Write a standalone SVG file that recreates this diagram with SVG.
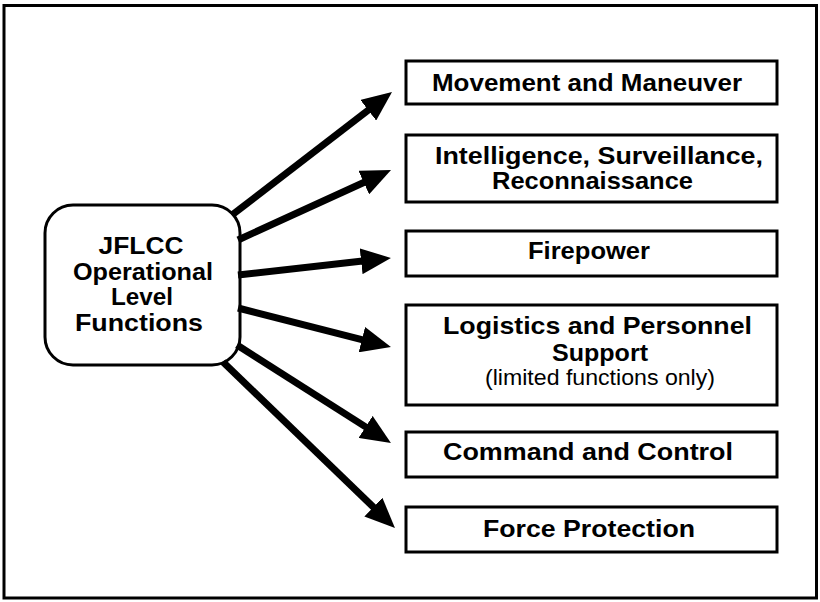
<svg xmlns="http://www.w3.org/2000/svg" width="820" height="602" viewBox="0 0 820 602">
  <style>
    .frame { fill: #ffffff; stroke: #000000; stroke-width: 3; }
    .box { fill: #ffffff; stroke: #000000; stroke-width: 3; }
    .b { font-family: "Liberation Sans", Arial, Helvetica, sans-serif; font-weight: bold; font-size: 24px; fill: #000000; text-anchor: middle; }
    .r { font-family: "Liberation Sans", Arial, Helvetica, sans-serif; font-size: 22px; fill: #000000; text-anchor: middle; }
    .arrow { fill: none; stroke: #000000; stroke-width: 7; marker-end: url(#head); }
  </style>
  <defs>
    <marker id="head" markerUnits="userSpaceOnUse" markerWidth="30" markerHeight="26" refX="6" refY="13" orient="auto" viewBox="0 0 30 26">
      <path d="M0,0 L30,13 L0,26 z" fill="#000000"/>
    </marker>
  </defs>
  <rect class="frame" x="4" y="5.5" width="812.5" height="592.5"/>

  <g id="jflcc">
    <rect class="box" x="45" y="205" width="195" height="160" rx="28" ry="28"/>
    <text class="b" x="141" y="254" textLength="85" lengthAdjust="spacingAndGlyphs">JFLCC</text>
    <text class="b" x="143" y="280" textLength="140" lengthAdjust="spacingAndGlyphs">Operational</text>
    <text class="b" x="142" y="305" textLength="62" lengthAdjust="spacingAndGlyphs">Level</text>
    <text class="b" x="139" y="331" textLength="128" lengthAdjust="spacingAndGlyphs">Functions</text>
  </g>

  <g id="movement">
    <rect class="box" x="406" y="61" width="371" height="43"/>
    <text class="b" x="587" y="91" textLength="310" lengthAdjust="spacingAndGlyphs">Movement and Maneuver</text>
  </g>
  <g id="isr">
    <rect class="box" x="406" y="135" width="371" height="67"/>
    <text class="b" x="599" y="164" textLength="328" lengthAdjust="spacingAndGlyphs">Intelligence, Surveillance,</text>
    <text class="b" x="592.5" y="189" textLength="201" lengthAdjust="spacingAndGlyphs">Reconnaissance</text>
  </g>
  <g id="firepower">
    <rect class="box" x="406" y="231" width="371" height="45"/>
    <text class="b" x="589" y="259" textLength="122" lengthAdjust="spacingAndGlyphs">Firepower</text>
  </g>
  <g id="logistics">
    <rect class="box" x="406" y="305" width="371" height="100"/>
    <text class="b" x="597.5" y="334" textLength="309" lengthAdjust="spacingAndGlyphs">Logistics and Personnel</text>
    <text class="b" x="600" y="361" textLength="96" lengthAdjust="spacingAndGlyphs">Support</text>
    <text class="r" x="600" y="385" textLength="230" lengthAdjust="spacingAndGlyphs">(limited functions only)</text>
  </g>
  <g id="c2">
    <rect class="box" x="406" y="432" width="371" height="45"/>
    <text class="b" x="588" y="460" textLength="290" lengthAdjust="spacingAndGlyphs">Command and Control</text>
  </g>
  <g id="force">
    <rect class="box" x="406" y="507" width="371" height="45"/>
    <text class="b" x="589" y="537" textLength="212" lengthAdjust="spacingAndGlyphs">Force Protection</text>
  </g>

  <g id="connectors">
    <path class="arrow" d="M232,215 L373,106.6"/>
    <path class="arrow" d="M238,240 L369.2,180"/>
    <path class="arrow" d="M238,275 L367.1,260.6"/>
    <path class="arrow" d="M238,308 L367.7,341.1"/>
    <path class="arrow" d="M237,345 L370.7,430.1"/>
    <path class="arrow" d="M223,362 L377.7,511.3"/>
  </g>
</svg>
